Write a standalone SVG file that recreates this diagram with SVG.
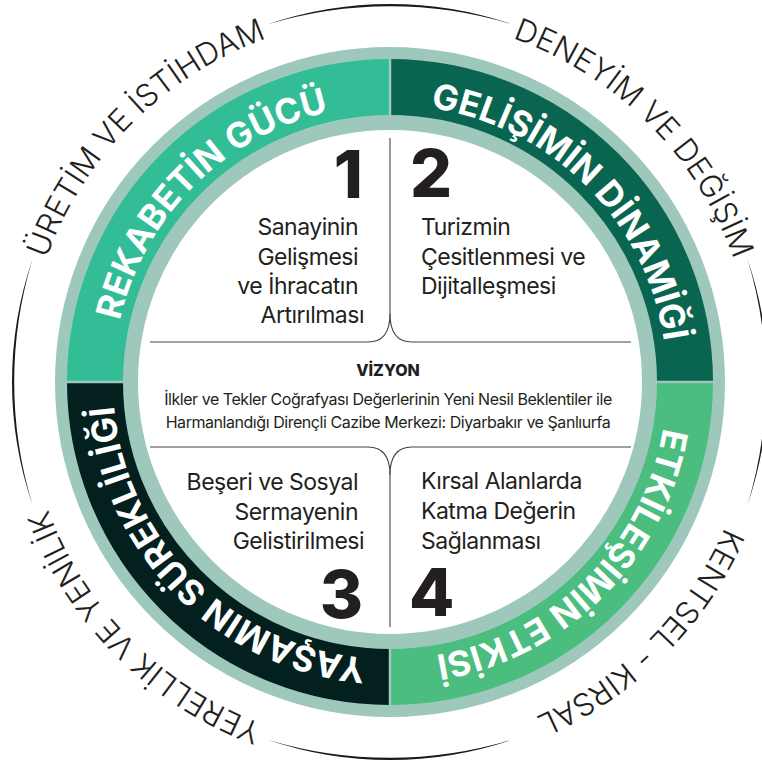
<svg xmlns="http://www.w3.org/2000/svg" width="762" height="767" viewBox="0 0 762 767">
  <style>
    .band { fill: none; stroke-width: 56; }
    .sep { stroke: #9fc8bd; stroke-width: 2.5; }
    .blbl { font-family: Inter, "Liberation Sans", sans-serif; font-weight: 700; font-size: 35px; fill: #ffffff; }
    .olbl { font-family: Inter, "Liberation Sans", sans-serif; font-weight: 300; font-size: 31px; fill: #231f20; }
    .num { font-family: Inter, "Liberation Sans", sans-serif; font-weight: 800; font-size: 66px; fill: #231f20; }
    .body { font-family: Inter, "Liberation Sans", sans-serif; font-weight: 400; font-size: 23px; letter-spacing: -0.5px; fill: #231f20; }
    .vtitle { font-family: Inter, "Liberation Sans", sans-serif; font-weight: 800; font-size: 16px; fill: #231f20; }
    .vtext { font-family: Inter, "Liberation Sans", sans-serif; font-weight: 400; font-size: 16px; letter-spacing: -0.45px; fill: #231f20; }
    .div { fill: none; stroke: #444; stroke-width: 1.1; }
    .ring { fill: #1a1a1a; }
  </style>
  <defs>
    <path id="pTL" d="M122.4,453.7 A277,277 0 0 1 461.7,114.4"/>
    <path id="pTR" d="M318.3,114.4 A277,277 0 0 1 657.6,453.7"/>
    <path id="pBR" d="M657.6,310.3 A277,277 0 0 1 318.3,649.6"/>
    <path id="pBL" d="M461.7,649.6 A277,277 0 0 1 122.4,310.3"/>
    <path id="oTL" d="M37.4,476.5 A365,365 0 0 1 484.5,29.4"/>
    <path id="oTR" d="M295.5,29.4 A365,365 0 0 1 742.6,476.5"/>
    <path id="oBR" d="M742.6,287.5 A365,365 0 0 1 295.5,734.6"/>
    <path id="oBL" d="M484.5,734.6 A365,365 0 0 1 37.4,287.5"/>
  </defs>

  <g id="outer-ring">
    <path class="ring" d="M266.93,24.59 A378,378 0 0 1 513.07,24.59 A420.8,420.8 0 0 0 266.93,24.59 Z"/>
    <path class="ring" d="M747.41,258.93 A378,378 0 0 1 747.41,505.07 A420.8,420.8 0 0 0 747.41,258.93 Z"/>
    <path class="ring" d="M513.07,739.41 A378,378 0 0 1 266.93,739.41 A420.8,420.8 0 0 0 513.07,739.41 Z"/>
    <path class="ring" d="M32.59,505.07 A378,378 0 0 1 32.59,258.93 A420.8,420.8 0 0 0 32.59,505.07 Z"/>
    <text class="olbl" text-anchor="middle"><textPath href="#oTL" startOffset="50%">ÜRETİM VE İSTİHDAM</textPath></text>
    <text class="olbl" text-anchor="middle"><textPath href="#oTR" startOffset="50%">DENEYİM VE DEĞİŞİM</textPath></text>
    <text class="olbl" text-anchor="middle"><textPath href="#oBR" startOffset="50%">KENTSEL - KIRSAL</textPath></text>
    <text class="olbl" text-anchor="middle"><textPath href="#oBL" startOffset="50%">YERELLİK VE YENİLİK</textPath></text>
  </g>

  <g id="band">
    <circle cx="390" cy="382" r="293.5" fill="none" stroke="#9fc8bd" stroke-width="83"/>
    <path class="band" stroke="#33bd97" d="M95,382 A295,295 0 0 1 390,87"/>
    <path class="band" stroke="#0a6550" d="M390,87 A295,295 0 0 1 685,382"/>
    <path class="band" stroke="#4bbd7e" d="M685,382 A295,295 0 0 1 390,677"/>
    <path class="band" stroke="#031f1e" d="M390,677 A295,295 0 0 1 95,382"/>
    <line class="sep" x1="390" y1="55" x2="390" y2="120"/>
    <line class="sep" x1="390" y1="644" x2="390" y2="710"/>
    <line class="sep" x1="60" y1="382" x2="125" y2="382"/>
    <line class="sep" x1="655" y1="382" x2="720" y2="382"/>
  </g>

  <g id="q1">
    <text class="blbl" text-anchor="middle"><textPath href="#pTL" startOffset="50%">REKABETİN GÜCÜ</textPath></text>
    <text class="num" x="363" y="198" text-anchor="end">1</text>
    <text class="body" text-anchor="end">
      <tspan x="364" y="235">Sanayinin</tspan>
      <tspan x="364" y="264.5">Gelişmesi</tspan>
      <tspan x="364" y="294">ve İhracatın</tspan>
      <tspan x="364" y="323">Artırılması</tspan>
    </text>
  </g>

  <g id="q2">
    <text class="blbl" text-anchor="middle"><textPath href="#pTR" startOffset="50%">GELİŞİMİN DİNAMİĞİ</textPath></text>
    <text class="num" x="410" y="197">2</text>
    <text class="body">
      <tspan x="421" y="235">Turizmin</tspan>
      <tspan x="421" y="264.5">Çesitlenmesi ve</tspan>
      <tspan x="421" y="294">Dijitalleşmesi</tspan>
    </text>
  </g>

  <g id="q4">
    <text class="blbl" text-anchor="middle"><textPath href="#pBR" startOffset="50%">ETKİLEŞİMİN ETKİSİ</textPath></text>
    <text class="body">
      <tspan x="421" y="489">Kırsal Alanlarda</tspan>
      <tspan x="421" y="519">Katma Değerin</tspan>
      <tspan x="421" y="549">Sağlanması</tspan>
    </text>
    <text class="num" x="409" y="616">4</text>
  </g>

  <g id="q3">
    <text class="blbl" text-anchor="middle"><textPath href="#pBL" startOffset="50%">YAŞAMIN SÜREKLİLİĞİ</textPath></text>
    <text class="body" text-anchor="end">
      <tspan x="364" y="490">Beşeri ve Sosyal</tspan>
      <tspan x="364" y="520">Sermayenin</tspan>
      <tspan x="364" y="549">Gelistirilmesi</tspan>
    </text>
    <text class="num" x="363" y="618" text-anchor="end">3</text>
  </g>

  <g id="vision">
    <text class="vtitle" x="388" y="376" text-anchor="middle">VİZYON</text>
    <text class="vtext" x="388" y="405" text-anchor="middle">İlkler ve Tekler Coğrafyası Değerlerinin Yeni Nesil Beklentiler ile</text>
    <text class="vtext" x="388" y="428" text-anchor="middle">Harmanlandığı Dirençli Cazibe Merkezi: Diyarbakır ve Şanlıurfa</text>
  </g>

  <g id="connectors">
    <path class="div" d="M150,342 H368 C382,342 390,334 390,314 V138"/>
    <path class="div" d="M631,342 H412 C398,342 390,334 390,314"/>
    <path class="div" d="M150,447 H368 C382,447 390,455 390,475 V627"/>
    <path class="div" d="M631,447 H412 C398,447 390,455 390,475"/>
  </g>
</svg>
